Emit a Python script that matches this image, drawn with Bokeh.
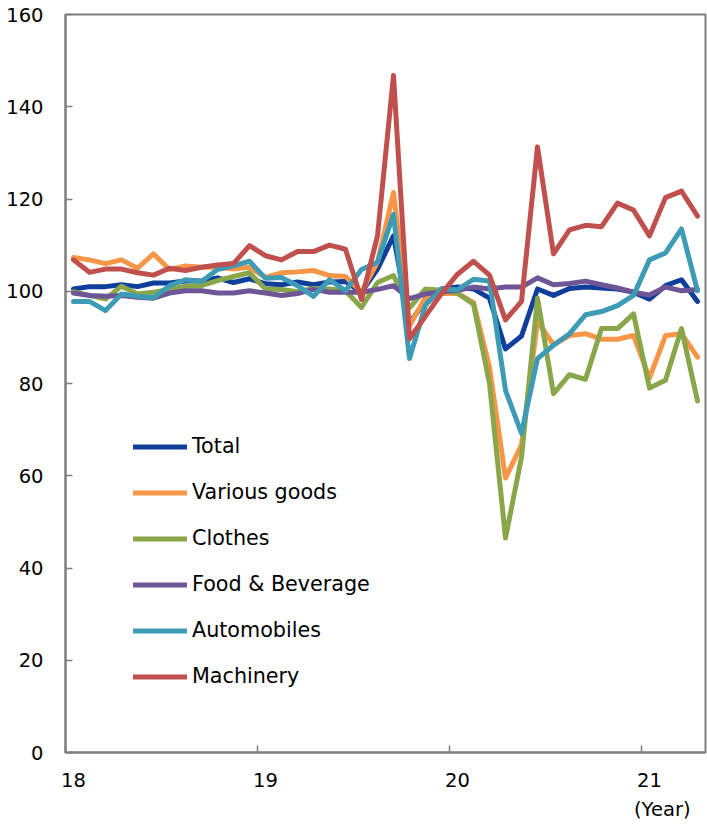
from bokeh.plotting import figure
from bokeh.models import Range1d, FixedTicker, CustomJSTickFormatter, Legend, LegendItem, Title, ColumnDataSource
from bokeh.embed import file_html
from bokeh.resources import INLINE

# Monthly index, Jan 2018 - Apr 2021
start_year = 18
n_months = 40
month_index = list(range(n_months))

total = [100.5, 101.0, 101.0, 101.4, 101.0, 101.8, 101.8, 102.2, 102.2, 102.9,
         101.9, 102.7, 101.6, 101.4, 102.0, 101.4, 102.0, 102.1, 99.8, 104.8,
         112.0, 93.0, 98.0, 100.5, 100.9, 100.5, 98.5, 87.5, 90.3, 100.5,
         99.1, 100.6, 100.9, 100.7, 100.5, 99.8, 98.3, 101.2, 102.5, 97.8]
various_goods = [107.3, 106.8, 106.0, 106.8, 105.0, 108.1, 104.7, 105.5, 105.2, 105.2,
                 104.8, 105.2, 103.0, 104.0, 104.2, 104.5, 103.4, 103.2, 99.8, 106.3,
                 121.4, 92.5, 98.7, 99.5, 99.5, 97.6, 83.5, 59.5, 66.7, 93.5,
                 88.4, 90.4, 90.8, 89.6, 89.6, 90.4, 81.2, 90.4, 90.8, 85.7]
clothes = [99.9, 99.1, 98.3, 101.1, 99.4, 99.8, 100.4, 101.1, 101.2, 102.3,
           103.2, 104.0, 100.5, 100.4, 99.9, 100.6, 100.5, 100.1, 96.5, 101.9,
           103.4, 96.4, 100.5, 100.2, 99.6, 97.2, 80.0, 46.5, 64.0, 98.5,
           77.8, 81.9, 80.9, 91.9, 91.9, 95.1, 79.0, 80.7, 91.9, 76.2]
food_beverage = [99.6, 99.1, 98.9, 99.1, 98.7, 98.5, 99.6, 100.1, 100.1, 99.6,
                 99.6, 100.1, 99.6, 99.1, 99.5, 100.4, 99.8, 99.8, 99.8, 100.4,
                 101.2, 98.4, 99.4, 99.9, 100.2, 100.9, 100.5, 100.9, 100.9, 102.9,
                 101.4, 101.7, 102.2, 101.4, 100.7, 99.8, 99.2, 100.9, 100.1, 100.4]
automobiles = [97.8, 97.8, 95.8, 99.4, 98.9, 98.6, 101.2, 102.5, 102.1, 104.7,
               105.5, 106.5, 102.8, 103.0, 101.2, 98.9, 102.5, 100.1, 104.7, 106.3,
               116.7, 85.4, 97.0, 100.5, 100.3, 102.6, 102.2, 78.5, 69.2, 85.4,
               88.3, 90.8, 94.9, 95.6, 96.9, 99.1, 106.8, 108.3, 113.5, 100.1]
machinery = [106.8, 104.1, 104.8, 104.8, 104.0, 103.5, 105.0, 104.5, 105.2, 105.7,
             106.0, 109.9, 107.7, 106.8, 108.6, 108.6, 110.0, 109.1, 98.2, 112.0,
             146.8, 89.7, 94.6, 99.5, 103.7, 106.5, 103.5, 93.8, 97.8, 131.3,
             108.1, 113.3, 114.3, 114.0, 119.1, 117.6, 112.0, 120.3, 121.7, 116.3]

series_names = ["Total", "Various goods", "Clothes", "Food & Beverage", "Automobiles", "Machinery"]
series_values = [total, various_goods, clothes, food_beverage, automobiles, machinery]
series_colors = ["#0f3f9a", "#f79646", "#8aa64b", "#6e5596", "#3e9bb5", "#c0504d"]

year_ticks = [18, 19, 20, 21]
y_ticks = list(range(0, 161, 20))

# each month plotted at the centre of its category slot
xs = [start_year + (m + 0.5) / 12 for m in month_index]
label_ticks = [y + 0.5 / 12 for y in year_ticks]

FONT = "DejaVu Sans"

p = figure(width=707, height=829,
           x_range=Range1d(start_year, start_year + n_months / 12),
           y_range=Range1d(0, 160),
           output_backend="svg", toolbar_location=None,
           min_border_left=65, min_border_right=2, min_border_top=14, min_border_bottom=77)

p.xgrid.visible = False
p.ygrid.visible = False
p.outline_line_color = "#7f7f7f"
p.outline_line_width = 2
p.background_fill_color = "white"
p.border_fill_color = "white"

# x axis: labels at first month of each year, tick marks at year boundaries
xa = p.xaxis[0]
xa.ticker = FixedTicker(ticks=label_ticks, minor_ticks=year_ticks)
xa.formatter = CustomJSTickFormatter(code="return Math.floor(tick).toString();")
xa.major_tick_in = 0
xa.major_tick_out = 0
xa.minor_tick_in = 7
xa.minor_tick_out = 0
xa.minor_tick_line_color = "#7f7f7f"
xa.minor_tick_line_width = 1.5
xa.axis_line_color = "#7f7f7f"
xa.axis_line_width = 2
xa.major_label_text_font = FONT
xa.major_label_text_font_size = "19.5px"
xa.major_label_text_color = "black"
xa.major_label_standoff = 20

ya = p.yaxis[0]
ya.ticker = FixedTicker(ticks=y_ticks, minor_ticks=[])
ya.major_tick_in = 7
ya.major_tick_out = 0
ya.major_tick_line_color = "#7f7f7f"
ya.major_tick_line_width = 1.5
ya.minor_tick_line_color = None
ya.axis_line_color = "#7f7f7f"
ya.axis_line_width = 2
ya.major_label_text_font = FONT
ya.major_label_text_font_size = "19.5px"
ya.major_label_text_color = "black"
ya.major_label_standoff = 22

items = []
for name, vals, col in zip(series_names, series_values, series_colors):
    src = ColumnDataSource(dict(x=xs, y=vals))
    r = p.line("x", "y", source=src, line_color=col, line_width=5,
               line_join="round", line_cap="round")
    items.append(LegendItem(label=name, renderers=[r]))

legend = Legend(items=items, location=(68, 64), orientation="vertical",
                glyph_width=54, glyph_height=23, label_height=23, spacing=22,
                label_standoff=5, padding=0, margin=0,
                border_line_color=None, background_fill_alpha=0,
                label_text_font=FONT, label_text_font_size="20.7px",
                label_text_color="black")
p.add_layout(legend)

p.add_layout(Title(text="(Year)", align="right", offset=15, standoff=13,
                   text_font=FONT, text_font_size="19.5px", text_font_style="normal",
                   text_color="black"), "below")

open("out.html", "w").write(file_html(p, INLINE))
